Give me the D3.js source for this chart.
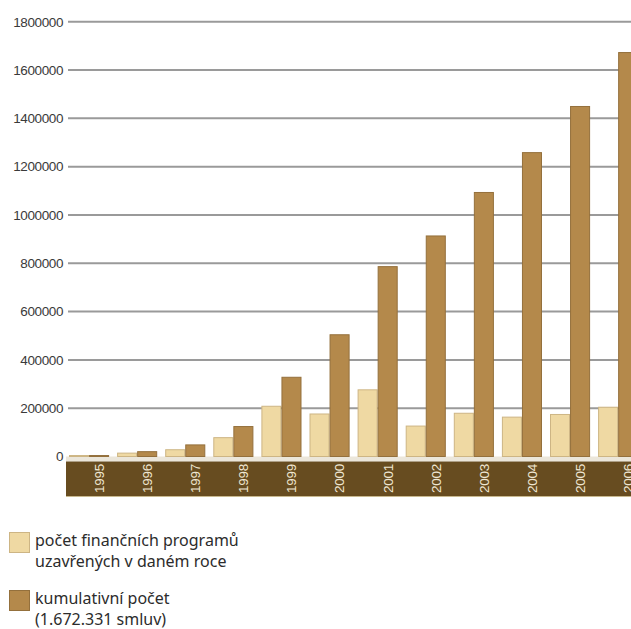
<!DOCTYPE html>
<html>
<head>
<meta charset="utf-8">
<script src="https://cdn.jsdelivr.net/npm/d3@7"></script>
<style>
  html, body { margin: 0; padding: 0; background: #fff; }
  svg { display: block; }
</style>
</head>
<body>
<script>
// Contracts concluded per year and running total
const years = ["1995","1996","1997","1998","1999","2000","2001","2002","2003","2004","2005","2006"];
const yearly = [4000, 14000, 28000, 78000, 208000, 176000, 276000, 126000, 179000, 163000, 174000, 204000];
const cumulative = [4000, 20000, 48000, 124000, 328000, 504000, 786000, 913000, 1093000, 1258000, 1449000, 1672331];
const yTicks = [0, 200000, 400000, 600000, 800000, 1000000, 1200000, 1400000, 1600000, 1800000];
const seriesKeys = ["yearly", "cumulative"];
const legendLines = [
  ["počet finančních programů", "uzavřených v daném roce"],
  ["kumulativní počet", "(1.672.331 smluv)"]
];

const W = 631, H = 629;
const fills = { yearly: "#efd9a3", cumulative: "#b4894b" };
const strokes = { yearly: "#cdb584", cumulative: "#94703c" };

const svg = d3.select("body").append("svg").attr("width", W).attr("height", H);

const y = d3.scaleLinear().domain([0, 1800000]).range([456.5, 21.7]);

const step = 48.1, inner = 8;
const x = d3.scaleBand().domain(years)
  .range([69, 69 + years.length * step - inner])
  .paddingInner(inner / step).paddingOuter(0);
const xs = d3.scaleBand().domain(seriesKeys).range([0, x.bandwidth()]).padding(0);

// horizontal grid lines
svg.append("g").selectAll("line")
  .data(yTicks.filter(d => d > 0))
  .join("line")
  .attr("x1", 68).attr("x2", W)
  .attr("y1", d => y(d)).attr("y2", d => y(d))
  .attr("stroke", "#9a9a9a").attr("stroke-width", 2);

// y-axis labels
svg.append("g").selectAll("text")
  .data(yTicks)
  .join("text")
  .attr("x", 63).attr("y", d => y(d))
  .attr("dy", "0.36em")
  .attr("text-anchor", "end")
  .attr("font-family", "Liberation Sans, Arial, sans-serif")
  .attr("font-size", 13.5)
  .attr("letter-spacing", "-0.4")
  .attr("fill", "#3a3a3a")
  .text(d => d);

// axis band under the bars
svg.append("rect").attr("x", 66).attr("y", 456.5).attr("width", W - 66).attr("height", 5)
  .attr("fill", "#ebe6da");
svg.append("rect").attr("x", 66).attr("y", 461.5).attr("width", W - 66).attr("height", 34.5)
  .attr("fill", "#674c20");
svg.append("rect").attr("x", 66).attr("y", 496).attr("width", W - 66).attr("height", 1)
  .attr("fill", "#c9b98f");

// bars
const rows = years.map((yr, i) => ({ year: yr, yearly: yearly[i], cumulative: cumulative[i] }));
const groups = svg.append("g").selectAll("g")
  .data(rows)
  .join("g")
  .attr("transform", d => `translate(${x(d.year)},0)`);

groups.selectAll("rect")
  .data(d => seriesKeys.map(k => ({ key: k, value: d[k] })))
  .join("rect")
  .attr("x", d => xs(d.key) + 0.5)
  .attr("width", xs.bandwidth() - 1)
  .attr("y", d => y(d.value))
  .attr("height", d => Math.max(0.5, y(0) - y(d.value)))
  .attr("fill", d => fills[d.key])
  .attr("stroke", d => strokes[d.key])
  .attr("stroke-width", 1);

// year labels inside the band
svg.append("g").selectAll("text")
  .data(years)
  .join("text")
  .attr("transform", d => `translate(${x(d) + xs("cumulative") + xs.bandwidth() / 2},478.5) rotate(-90)`)
  .attr("dy", "0.36em")
  .attr("text-anchor", "middle")
  .attr("font-family", "Liberation Sans, Arial, sans-serif")
  .attr("font-size", 13.5)
  .attr("letter-spacing", "-0.2")
  .attr("fill", "#efe6d2")
  .text(d => d);

// legend
const legendTop = [532, 590];
const legend = svg.append("g").selectAll("g")
  .data(seriesKeys)
  .join("g")
  .attr("transform", (d, i) => `translate(9,${legendTop[i]})`);

legend.append("rect")
  .attr("x", 0.5).attr("y", 0.5).attr("width", 20).attr("height", 20)
  .attr("fill", d => fills[d])
  .attr("stroke", d => strokes[d]).attr("stroke-width", 1);

legend.append("text")
  .attr("x", 26).attr("y", 13.5)
  .attr("font-family", "Noto Sans, Open Sans, sans-serif")
  .attr("font-size", 16)
  .attr("fill", "#2c2c2c")
  .selectAll("tspan")
  .data((d, i) => legendLines[i])
  .join("tspan")
  .attr("x", 26)
  .attr("dy", (d, j) => j === 0 ? 0 : 21.5)
  .text(d => d);
</script>
</body>
</html>
